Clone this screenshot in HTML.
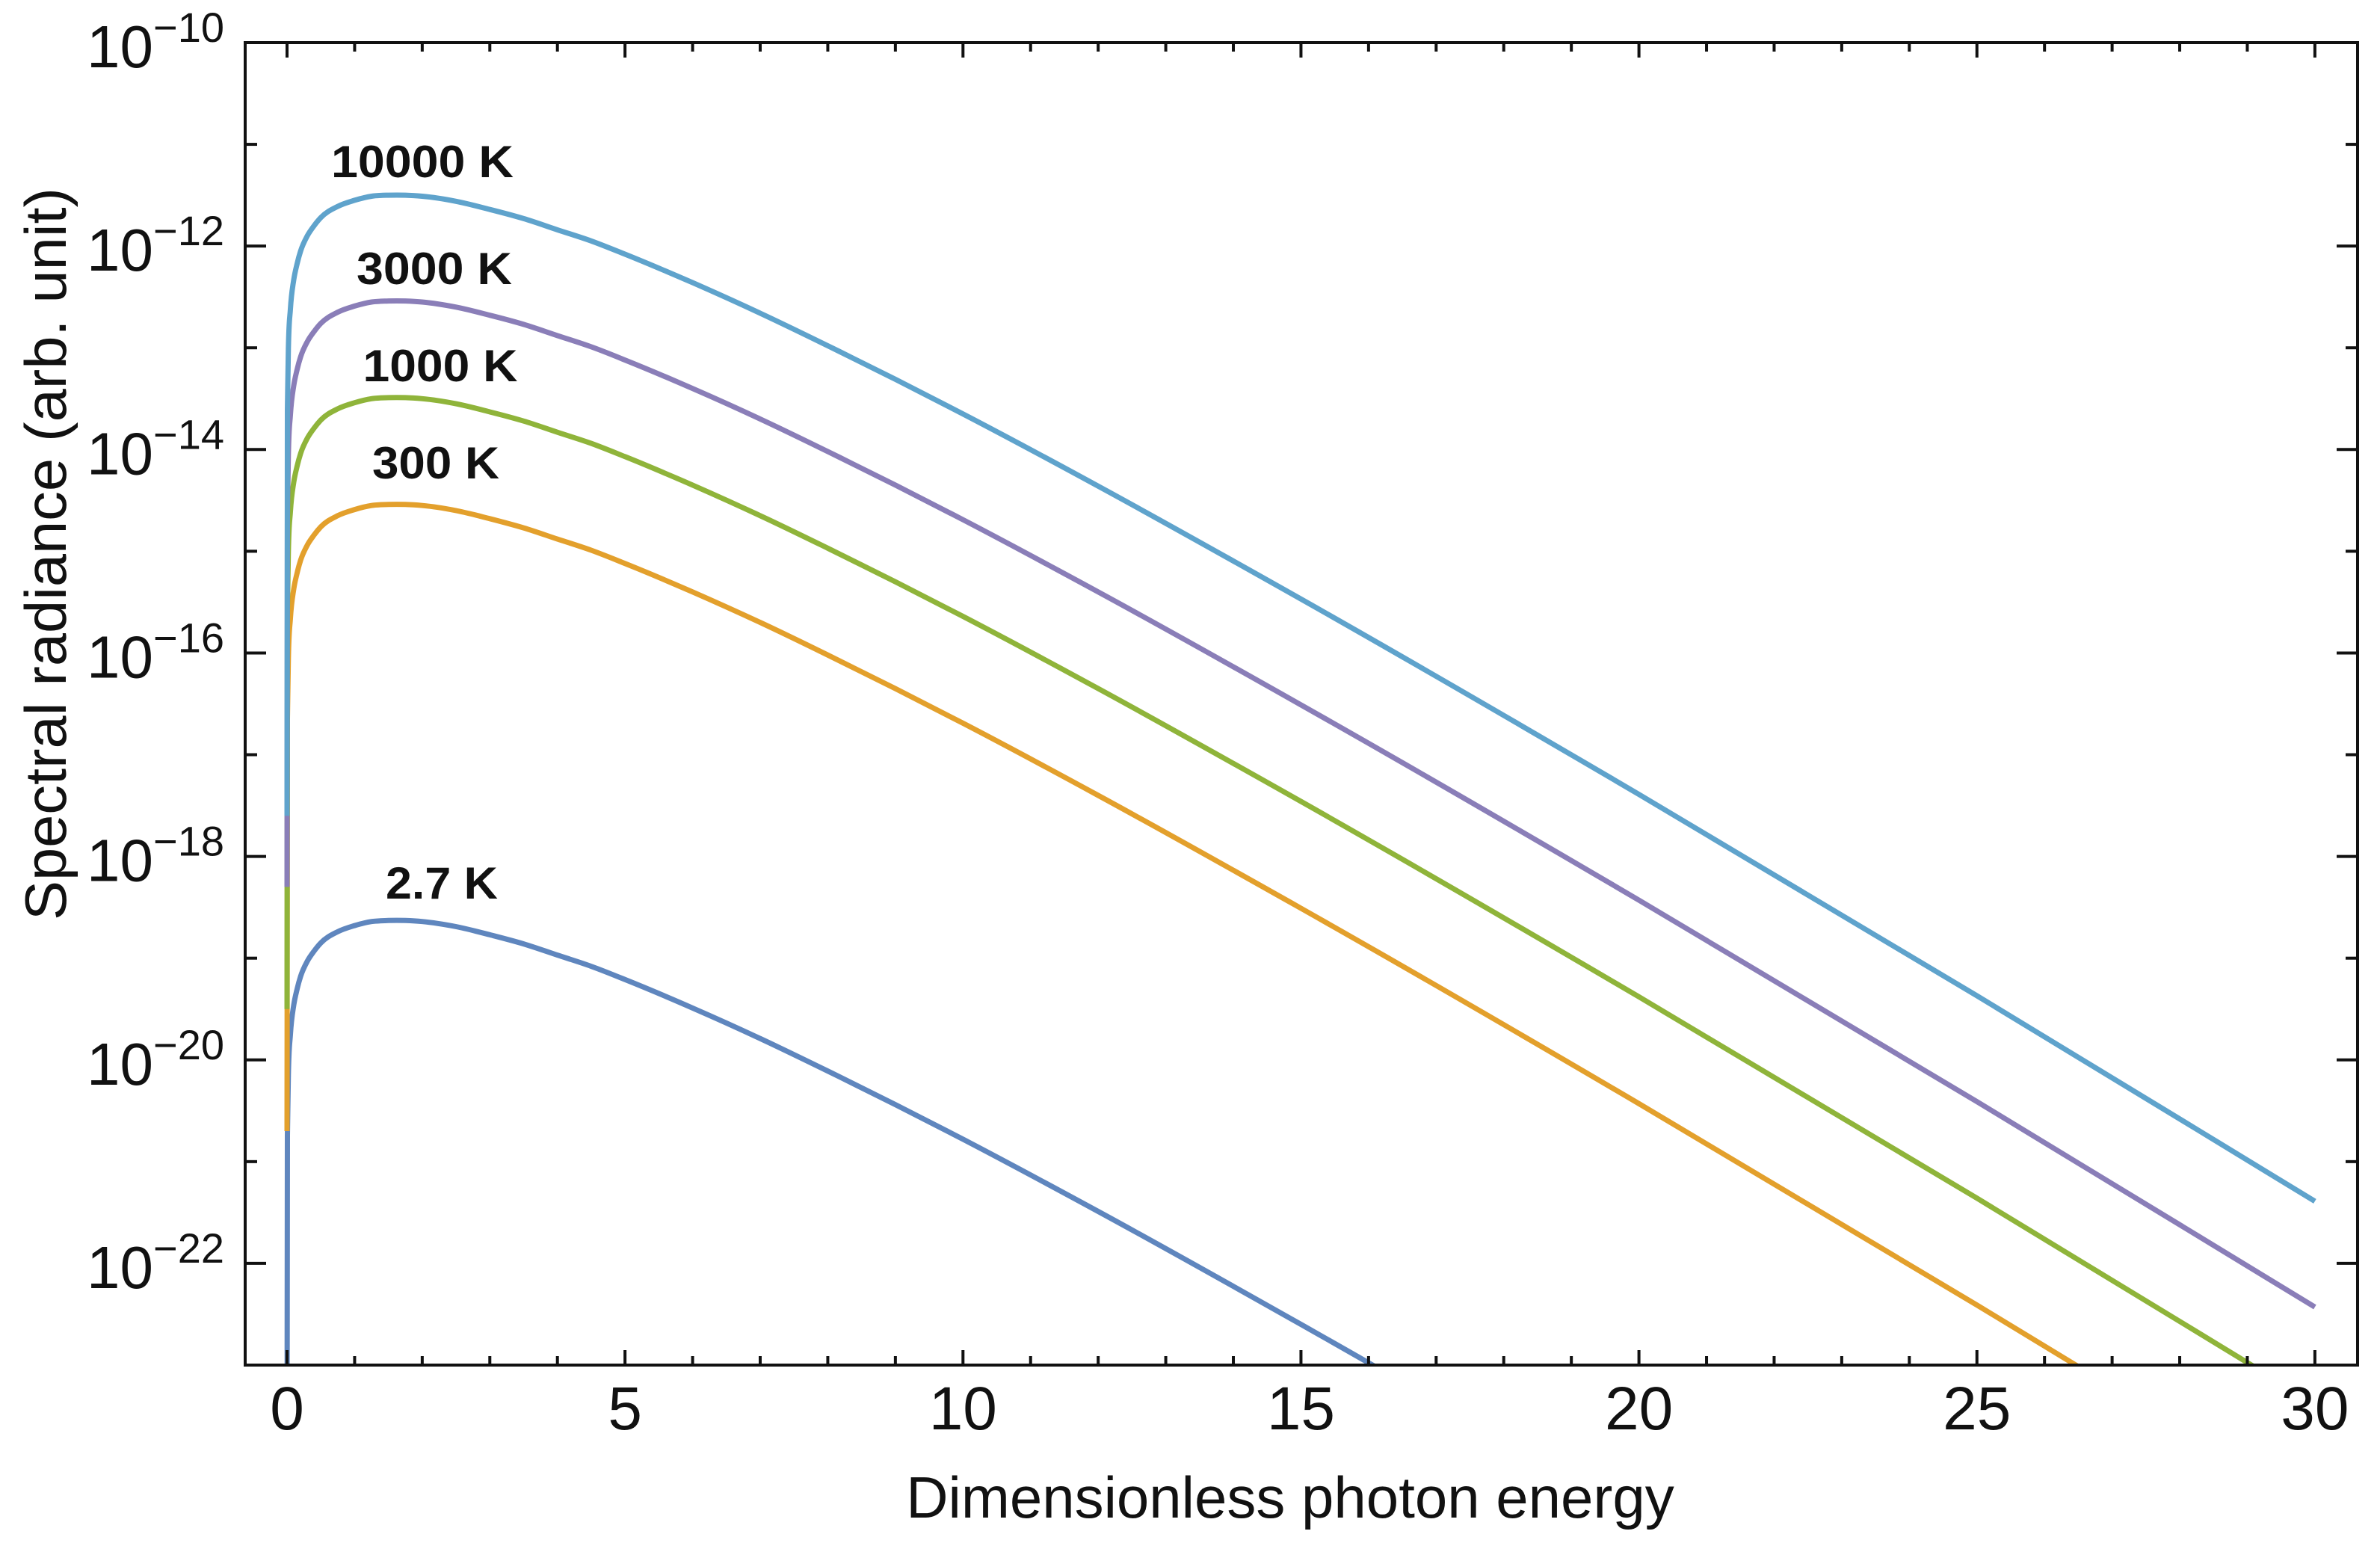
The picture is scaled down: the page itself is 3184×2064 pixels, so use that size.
<!DOCTYPE html>
<html><head><meta charset="utf-8"><style>
html,body{margin:0;padding:0;background:#fff;width:3184px;height:2064px;overflow:hidden}
svg{display:block;overflow:hidden}
text{font-family:"Liberation Sans",Arial,sans-serif;fill:#111}
</style></head><body>
<svg id="chart" width="3184" height="2064" viewBox="0 0 3184 2064" xmlns="http://www.w3.org/2000/svg">
<rect x="0" y="0" width="3184" height="2064" fill="#fff"/>
<g id="curves"></g>
<g id="axes"></g>
<g id="labels"></g>
<text x="1726" y="2030" font-size="78" text-anchor="middle">Dimensionless photon energy</text>
<text transform="translate(88,741) rotate(-90)" font-size="78" text-anchor="middle" textLength="980" lengthAdjust="spacingAndGlyphs">Spectral radiance (arb. unit)</text>
</svg>
<script>
// data: x samples and log10 radiance per temperature
const xs = [0, 0.005, 0.02, 0.05, 0.1, 0.15, 0.2, 0.3, 0.4, 0.5, 0.75, 1, 1.25, 1.5, 1.75, 2, 2.5, 3, 3.5, 4, 4.5, 5, 6, 7, 8, 9, 10, 12, 15, 20, 25, 30];
const s2_7K = [-24, -20.74, -20.14, -19.75, -19.46, -19.30, -19.18, -19.03, -18.93, -18.85, -18.74, -18.68, -18.64, -18.63, -18.63, -18.64, -18.69, -18.77, -18.86, -18.97, -19.08, -19.21, -19.49, -19.79, -20.11, -20.44, -20.78, -21.49, -22.60, -24.52, -26.50, -28.51];
const s300K = [-20.7, -16.65, -16.05, -15.66, -15.37, -15.21, -15.09, -14.94, -14.84, -14.76, -14.65, -14.59, -14.55, -14.54, -14.54, -14.55, -14.60, -14.68, -14.77, -14.88, -14.99, -15.12, -15.40, -15.70, -16.02, -16.35, -16.69, -17.40, -18.51, -20.43, -22.41, -24.43];
const s1000K = [-19.5, -15.60, -15.00, -14.61, -14.32, -14.16, -14.04, -13.89, -13.79, -13.71, -13.60, -13.54, -13.50, -13.49, -13.49, -13.50, -13.55, -13.63, -13.72, -13.83, -13.94, -14.07, -14.35, -14.65, -14.97, -15.30, -15.64, -16.35, -17.46, -19.38, -21.36, -23.38];
const s3000K = [-18.3, -14.65, -14.05, -13.66, -13.37, -13.21, -13.09, -12.94, -12.84, -12.76, -12.65, -12.59, -12.55, -12.54, -12.54, -12.55, -12.60, -12.68, -12.77, -12.88, -12.99, -13.12, -13.40, -13.70, -14.02, -14.35, -14.69, -15.40, -16.51, -18.43, -20.41, -22.43];
const s10000K = [-17.6, -13.61, -13.01, -12.62, -12.33, -12.17, -12.05, -11.90, -11.80, -11.72, -11.61, -11.55, -11.51, -11.50, -11.50, -11.51, -11.56, -11.64, -11.73, -11.84, -11.95, -12.08, -12.36, -12.66, -12.98, -13.31, -13.65, -14.36, -15.47, -17.39, -19.37, -21.39];
const seriesNames = ["2.7 K", "300 K", "1000 K", "3000 K", "10000 K"];
const seriesColors = ["#5f86be", "#e3a02c", "#8fb43a", "#8a7eb8", "#5fa3cc"];
const xTickVals = [0, 5, 10, 15, 20, 25, 30];
const yTickExps = [-10, -12, -14, -16, -18, -20, -22];

const L = 328, R = 3154, T = 57, B = 1826;
const xMin = (L - 384) / 90.43, xMax = xMin + (R - L) / 90.43;
const yMin = -23.0, yMax = -10;
const sx = v => L + (v - xMin) / (xMax - xMin) * (R - L);
const sy = v => T + (yMax - v) / (yMax - yMin) * (B - T);
const NS = "http://www.w3.org/2000/svg";
const mk = (tag, attrs, parent) => { const e = document.createElementNS(NS, tag); for (const k in attrs) e.setAttribute(k, attrs[k]); parent.appendChild(e); return e; };

const defs = mk("defs", {}, document.getElementById("chart"));
const cp = mk("clipPath", {id: "plotclip"}, defs);
mk("rect", {x: L, y: T, width: R - L, height: B - T}, cp);

const curves = document.getElementById("curves");
curves.setAttribute("clip-path", "url(#plotclip)");
const allSeries = [s2_7K, s300K, s1000K, s3000K, s10000K];
const curveNames = ["curve-2-7k", "curve-300k", "curve-1000k", "curve-3000k", "curve-10000k"];
allSeries.forEach((s, i) => {
  const pts = xs.map((x, j) => [sx(x), sy(s[j])]).slice(1);
  const n = pts.length;
  const sl = [];
  for (let j = 0; j < n - 1; j++) sl.push((pts[j + 1][1] - pts[j][1]) / (pts[j + 1][0] - pts[j][0]));
  const m = [];
  for (let j = 0; j < n; j++) {
    if (j === 0) m.push(sl[0]);
    else if (j === n - 1) m.push(sl[n - 2]);
    else {
      const h0 = pts[j][0] - pts[j - 1][0], h1 = pts[j + 1][0] - pts[j][0];
      m.push((sl[j - 1] * h1 + sl[j] * h0) / (h0 + h1));
    }
  }
  let d = "M" + sx(xs[0]).toFixed(1) + "," + sy(s[0]).toFixed(1) + " L" + pts[0][0].toFixed(1) + "," + pts[0][1].toFixed(1);
  for (let j = 0; j < n - 1; j++) {
    const h = pts[j + 1][0] - pts[j][0];
    const c1 = [pts[j][0] + h / 3, pts[j][1] + m[j] * h / 3];
    const c2 = [pts[j + 1][0] - h / 3, pts[j + 1][1] - m[j + 1] * h / 3];
    d += " C" + c1.map(v => v.toFixed(1)).join(",") + " " + c2.map(v => v.toFixed(1)).join(",") + " " + pts[j + 1].map(v => v.toFixed(1)).join(",");
  }
  const p = mk("path", {d: d, fill: "none", stroke: seriesColors[i], "stroke-width": 7, "stroke-linejoin": "round"}, curves);
  
  
});

const axes = document.getElementById("axes");
const frame = mk("rect", {x: L, y: T, width: R - L, height: B - T, fill: "none", stroke: "#111", "stroke-width": 4}, axes);


for (let v = 0; v <= 30; v++) {
  const major = v % 5 === 0, len = major ? 20 : 12, X = sx(v);
  const t1 = mk("line", {x1: X, y1: B, x2: X, y2: B - len, stroke: "#111", "stroke-width": 4}, axes);
  
  
  const t2 = mk("line", {x1: X, y1: T, x2: X, y2: T + len, stroke: "#111", "stroke-width": 4}, axes);
  
  
}
xTickVals.forEach(v => {
  const t = mk("text", {x: sx(v), y: 1912, "font-size": 82, "text-anchor": "middle"}, axes);
  t.textContent = String(v);
  
  
});
for (let e = -10; e >= -23; e--) {
  const major = e % 2 === 0, len = major ? 28 : 16, Y = sy(e);
  const t1 = mk("line", {x1: L, y1: Y, x2: L + len, y2: Y, stroke: "#111", "stroke-width": 4}, axes);
  
  
  const t2 = mk("line", {x1: R, y1: Y, x2: R - len, y2: Y, stroke: "#111", "stroke-width": 4}, axes);
  
  
}
yTickExps.forEach(e => {
  const Y = sy(e);
  const t = mk("text", {x: 300, y: Y + 33, "font-size": 80, "text-anchor": "end"}, axes);
  
  
  const a = mk("tspan", {}, t); a.textContent = "10";
  const b = mk("tspan", {dy: -34, "font-size": 56}, t); b.textContent = "\u2212" + Math.abs(e);
});

const labelX = [591, 583, 589, 581, 565];
const labelY = [1202, 640, 510, 380, 237];
const labelW = [150, 170, 207, 208, 244];
const labels = document.getElementById("labels");
seriesNames.forEach((n, i) => {
  const t = mk("text", {x: labelX[i], y: labelY[i], "font-size": 60, "font-weight": "bold", "text-anchor": "middle", textLength: labelW[i], lengthAdjust: "spacingAndGlyphs"}, labels);
  t.textContent = n;
  
  
});
</script>
</body></html>
